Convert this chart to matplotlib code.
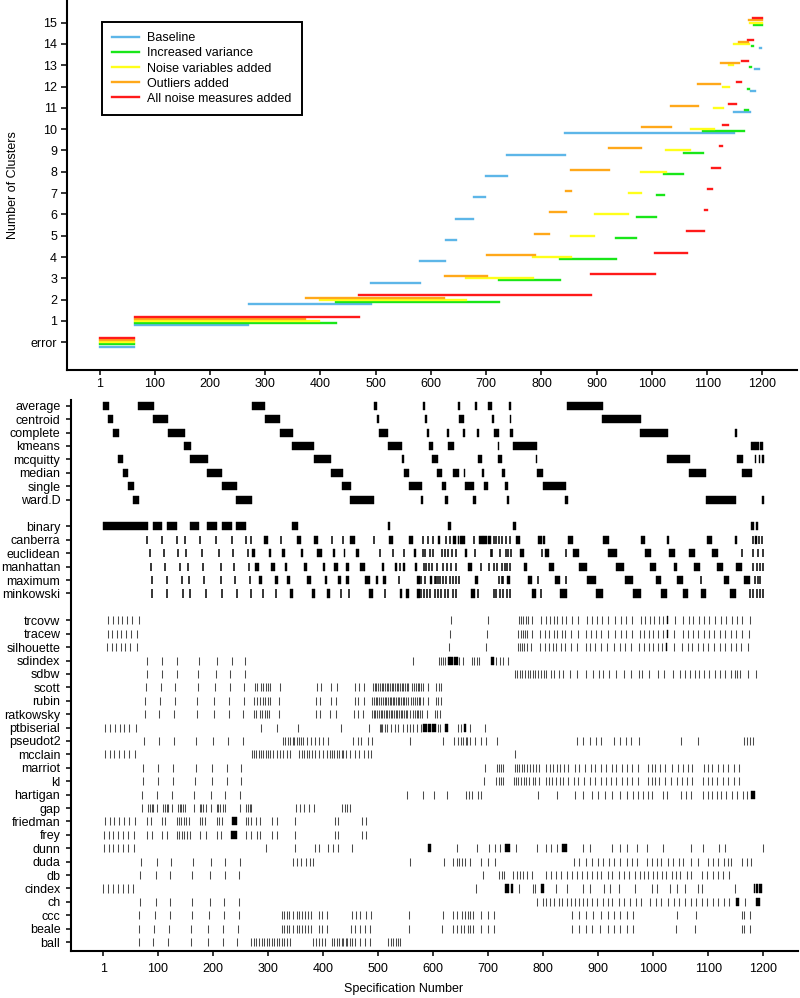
import matplotlib
matplotlib.use("Agg")
import matplotlib.pyplot as plt
from matplotlib.lines import Line2D

plt.rcParams['font.family'] = ['Liberation Sans', 'DejaVu Sans']

# ---------------- top panel data: number of specs per cluster solution ----------------
level_labels = ["error"] + [str(i) for i in range(1, 16)]
series_names = ["Baseline", "Increased variance", "Noise variables added",
                "Outliers added", "All noise measures added"]
series_colors = ["#5DB6E8", "#19E619", "#FFFF1A", "#FFA81A", "#FF1A1A"]
counts_baseline = [63, 206, 222, 89, 46, 19, 31, 22, 39, 105, 306, 30, 8, 8, 4, 2]
counts_variance = [63, 365, 295, 110, 101, 38, 36, 13, 36, 35, 75, 6, 3, 4, 3, 17]
counts_noisevars = [63, 335, 265, 121, 69, 42, 62, 23, 45, 44, 43, 16, 11, 8, 29, 24]
counts_outliers = [63, 309, 252, 77, 87, 26, 30, 9, 69, 59, 53, 49, 41, 33, 17, 26]
counts_allnoise = [63, 406, 420, 116, 58, 32, 5, 8, 15, 4, 11, 14, 10, 11, 9, 18]

x_ticks = [1, 100, 200, 300, 400, 500, 600, 700, 800, 900, 1000, 1100, 1200]

# ---------------- bottom panel data: spec numbers (single) or (first, last) runs ----------------
spec_average = [(1, 10), (65, 92), (271, 294), (493, 498), (582, 585), (646, 649), (676, 679), (700, 707), (739, 741), (844, 908)]
spec_centroid = [(10, 19), (92, 118), (295, 322), (499, 502), (586, 589), (648, 656), (707, 710), (740, 742), (908, 977)]
spec_complete = [(19, 29), (119, 149), (323, 345), (502, 518), (589, 593), (626, 628), (655, 657), (680, 683), (711, 719), (741, 744), (977, 1026), (1149, 1152)]
spec_kmeans = [(149, 159), (345, 384), (518, 544), (593, 599), (628, 637), (718, 720), (745, 788), (1179, 1184), (1186, 1191), (1194, 1199)]
spec_mcquitty = [(28, 37), (159, 190), (384, 415), (544, 546), (599, 608), (682, 689), (719, 725), (787, 789), (1026, 1066), (1152, 1162), (1185, 1187), (1193, 1194), (1199, 1200)]
spec_median = [(37, 46), (190, 217), (415, 436), (547, 556), (608, 616), (637, 647), (656, 658), (690, 693), (725, 730), (789, 800), (1065, 1096), (1161, 1179)]
spec_single = [(46, 56), (217, 243), (435, 450), (556, 579), (616, 623), (658, 674), (693, 699), (731, 736), (800, 841)]
spec_ward = [(56, 65), (243, 271), (450, 493), (579, 582), (623, 627), (674, 677), (735, 738), (841, 844), (1096, 1149), (1198, 1201)]

spec_binary = [(1, 81), (91, 107), (118, 135), (159, 175), (190, 207), (217, 234), (243, 259), (345, 354), (518, 522), (628, 632), (745, 750), (1179, 1182), (1187, 1190)]
spec_canberra = [81, 108, 135, 150, 176, 206, 234, 260, 270, (294, 300), 323, (353, 359), (384, 390), 416, 436, (450, 458), 493, (521, 526), (556, 564), 582, 591, 600, (609, 612), 623, 630, (636, 641), (645, 647), (649, 652), (654, 657), 674, (684, 690), (692, 698), (700, 704), 710, 714, 719, 725, 733, 740, (751, 757), (791, 798), (801, 803), (846, 853), (910, 919), (979, 984), (1026, 1028), (1098, 1107), (1149, 1151), 1181, (1185, 1188), 1193, 1197]
spec_euclidean = [85, 112, 137, 152, 181, 211, 237, 264, (272, 277), (303, 305), (327, 330), (361, 364), (390, 398), (419, 421), (438, 440), (460, 465), 503, 528, 547, (566, 568), 582, 586, 594, 600, 616, 622, 628, 634, 642, (659, 662), 676, 705, 708, 722, 732, 737, 741, (758, 764), 798, (803, 811), 841, (854, 865), (919, 933), (986, 995), (1029, 1039), (1066, 1075), (1108, 1117), 1162, 1182, 1191, 1200]
spec_manhattan = [87, 114, 141, 154, 182, 214, 238, 266, (278, 284), (307, 313), (331, 334), (366, 371), (400, 404), (421, 426), (442, 446), (467, 476), (507, 510), (531, 534), 540, (546, 549), (567, 570), 583, 588, 593, 598, 607, 619, 625, 633, 642, (664, 670), 688, 702, 710, 717, 725, 731, 735, 739, (765, 771), (811, 819), (865, 879), (933, 947), (995, 1004), (1039, 1042), (1075, 1085), (1117, 1127), (1150, 1161), 1181, 1188, 1194, 1200]
spec_maximum = [89, 116, 144, 156, 184, 215, 241, 267, (284, 289), (313, 317), (336, 340), (372, 378), (404, 407), (428, 432), (443, 446), (477, 485), (496, 500), (509, 514), 538, (572, 576), 579, 586, (595, 598), 603, 606, 609, 612, 618, 624, 630, 636, 641, 648, (676, 682), 719, 725, 728, (735, 740), (773, 779), 790, (822, 831), 841, (881, 895), (949, 963), (1005, 1013), (1043, 1054), 1086, (1129, 1138), (1166, 1175), 1185, 1190, 1194]
spec_minkowski = [90, 117, 146, 158, 188, 217, 243, 269, 291, 315, (340, 345), (380, 385), (407, 413), 432, 448, (485, 491), 513, (540, 543), (552, 555), (572, 576), 578, 583, 589, 595, 603, 609, 615, 621, 627, 636, 642, (670, 676), 682, 710, 715, 722, 728, 734, 739, (781, 787), 797, (832, 843), (896, 908), (963, 977), (1015, 1024), (1054, 1063), (1088, 1096), (1140, 1149), 1176, 1182, 1188, 1194, 1200]

spec_trcovw = [10, 18, 27, 35, 44, 53, 65, 632, 700, 756, 760, 764, 768, 772, 780, 796, 805, 812, 820, 826, 835, 841, 852, 864, 879, 888, 897, 907, 918, 931, 942, 951, 962, 977, 985, 994, 1001, 1010, 1018, (1026, 1027), 1039, 1055, 1065, 1073, 1083, 1093, 1102, 1112, 1123, 1132, 1143, 1152, 1162, 1175]
spec_tracew = [9, 17, 25, 34, 42, 51, 63, 630, 698, 755, 759, 763, 767, 771, 779, 795, 804, 811, 819, 825, 834, 840, 851, 863, 878, 887, 896, 906, 917, 930, 941, 950, 961, 976, 984, 993, 1000, 1009, 1017, (1025, 1026), 1038, 1054, 1064, 1072, 1082, 1092, 1101, 1111, 1122, 1131, 1142, 1151, 1161, 1174]
spec_silhouette = [7, 16, 24, 33, 41, 50, 62, 629, 697, 754, 758, 762, 766, 770, 778, 794, 803, 810, 818, 824, 833, 839, 850, 862, 877, 886, 895, 905, 916, 929, 940, 949, 960, 975, 983, 992, 999, 1008, 1016, (1024, 1025), 1037, 1053, 1063, 1071, 1081, 1091, 1100, 1110, 1121, 1130, 1141, 1150, 1160, 1173]
spec_sdindex = [80, 107, 134, 175, 207, 234, 259, 563, 610, 614, 618, 622, (627, 630), (632, 636), (639, 644), 648, 654, 670, 674, 679, 683, (705, 710), 715, 722, 727, 737]
spec_sdbw = [80, 107, 134, 173, 205, 232, 258, 749, 753, 758, 762, 767, 772, 776, 782, 786, 791, 796, 802, 806, 814, 820, 828, 837, 849, 861, 877, 891, 901, 909, 919, 933, 947, 959, 974, 980, 992, 1008, 1019, 1036, 1049, 1058, 1067, 1075, 1083, 1093, 1102, 1112, 1121, 1130, 1141, 1149, 1153, 1158, 1173, 1187]
spec_scott = [78, 105, 132, 173, 204, 231, 257, 276, 281, 287, 292, 296, 301, 304, 322, 389, 396, 415, 425, 459, 465, 475, 491, 494, 497, 500, 503, 507, 510, 513, 516, 519, 522, 525, 528, 531, 534, 537, 540, 543, 546, 549, 552, 555, 561, 565, 569, 572, 575, 578, 582, 591, 606, 610, 615]
spec_rubin = [77, 104, 131, 172, 203, 230, 256, 275, 280, 286, 291, 295, 300, 303, 321, 388, 395, 414, 424, 458, 464, 474, 490, 493, 496, 499, 502, 506, 509, 512, 515, 518, 521, 524, 527, 530, 533, 536, 539, 542, 545, 548, 551, 554, 560, 564, 568, 571, 574, 577, 581, 590, 605, 609, 614]
spec_ratkowsky = [76, 103, 130, 171, 202, 229, 255, 274, 279, 285, 290, 294, 299, 302, 320, 387, 394, 413, 423, 457, 463, 473, 489, 492, 495, 498, 501, 505, 508, 511, 514, 517, 520, 523, 526, 529, 532, 535, 538, 541, 544, 547, 550, 553, 559, 563, 567, 570, 573, 576, 580, 589, 604, 608, 613]
spec_ptbiserial = [5, 14, 22, 31, 39, 48, 60, 288, 317, 354, 432, 484, 503, 505, 508, 513, 517, 523, 531, 536, 546, 552, 558, 564, 570, 578, (582, 588), (592, 596), (598, 604), 609, 613, (622, 627), 645, 651, (656, 659), 667, 695]
spec_pseudot2 = [75, 102, 129, 170, 201, 228, 254, 328, 332, 336, 340, 345, 348, 352, 357, 360, 364, 371, 378, 386, 393, 401, 410, 455, 463, 470, 482, 490, 559, 619, 639, 645, 651, 654, 659, 662, 667, 676, 688, 697, 716, 861, 873, 885, 896, 906, 928, 939, 950, 960, 974, 1050, 1081, 1164, 1170, 1176, 1181]
spec_mcclain = [4, 13, 21, 30, 38, 47, 59, 271, 275, 279, 283, 287, 291, 296, 300, 304, 310, 316, 322, 327, 334, 340, 357, 362, 366, 371, 375, 380, 386, 392, 401, 407, 413, 416, 420, 425, 430, 434, 437, 441, 449, 458, 466, 475, 482, 488, 748]
spec_marriot = [74, 101, 128, 169, 199, 226, 252, 694, 716, 720, 724, 728, 748, 752, 756, 761, 766, 770, 776, 782, 787, 793, 806, 812, 818, 825, 831, 838, 846, 857, 865, 876, 887, 895, 906, 915, 925, 933, 944, 953, 962, 973, 991, 998, 1004, 1012, 1022, 1034, 1045, 1054, 1063, 1071, 1092, 1100, 1107, 1117, 1127, 1136, 1147, 1156]
spec_kl = [73, 100, 127, 167, 199, 226, 251, 693, 715, 719, 723, 727, 747, 751, 755, 760, 765, 769, 775, 781, 786, 792, 805, 811, 817, 824, 830, 837, 845, 856, 864, 875, 886, 894, 905, 914, 924, 932, 943, 952, 961, 972, 990, 997, 1003, 1011, 1021, 1033, 1044, 1053, 1062, 1070, 1091, 1099, 1106, 1116, 1126, 1135, 1146, 1155]
spec_hartigan = [71, 98, 125, 166, 196, 223, 250, 552, 582, 602, 626, 660, 665, 670, 682, 688, 791, 825, 858, 873, 888, 900, 912, 926, 939, 953, 963, 973, 982, 991, 998, 1017, 1025, 1050, 1060, 1068, 1091, 1100, 1107, 1115, 1124, 1133, 1143, 1152, 1163, 1170, (1179, 1185)]
spec_gap = [71, 83, 86, 89, 92, 98, 110, 113, 116, 119, 125, 137, 140, 143, 146, 149, 166, 176, 179, 182, 188, 196, 207, 210, 213, 219, 223, 249, 261, 264, 267, 270, 351, 359, 366, 375, 383, 435, 440, 444, 449]
spec_friedman = [4, 13, 21, 30, 38, 47, 59, 81, 87, 108, 114, 135, 139, 143, 147, 152, 157, 176, 181, 185, 207, 211, 216, (235, 243), 260, 264, 270, 279, 285, 308, 316, 349, 422, 428, 471, 479]
spec_frey = [3, 11, 19, 28, 36, 45, 57, 81, 89, 108, 116, 135, 139, 144, 148, 153, 158, 177, 188, 207, 215, (234, 243), 260, 269, 280, 286, 308, 316, 349, 422, 428, 471, 479]
spec_dunn = [3, 11, 19, 28, 36, 45, 57, 296, 349, 386, 393, 410, 418, 428, 453, (592, 596), 643, 680, 702, 713, 722, (732, 740), 751, 788, 805, 815, 825, (834, 843), 872, 886, 926, 940, 952, 970, 988, 1018, 1068, 1090, 1120, 1130, 1200]
spec_duda = [69, 98, 124, 164, 196, 223, 249, 346, 353, 361, 369, 376, 382, 558, 620, 637, 643, 648, 653, 658, 668, 687, 700, 713, 856, 866, 877, 888, 900, 908, 920, 929, 940, 952, 961, 970, 988, 997, 1007, 1015, 1027, 1036, 1047, 1055, 1068, 1082, 1100, 1109, 1118, 1129, 1136, 1142, 1162, 1170, 1178]
spec_db = [68, 96, 123, 163, 195, 222, 248, 691, 720, 725, 729, 746, 752, 758, 764, 771, 779, 805, 814, 823, 832, 843, 852, 861, 870, 879, 888, 897, 906, 917, 926, 938, 947, 956, 967, 976, 983, 991, 1000, 1007, 1016, 1024, 1035, 1041, 1049, 1061, 1068, 1088, 1098, 1108, 1117, 1127, 1138]
spec_cindex = [1, 10, 19, 28, 37, 46, 55, 678, (732, 738), (742, 745), 757, 781, 786, (797, 801), 823, 843, 872, 885, 910, 921, 938, 966, 998, 1007, 1030, 1044, 1058, 1082, 1088, 1149, (1184, 1185), (1188, 1190), (1192, 1197)]
spec_ch = [68, 96, 122, 163, 194, 221, 248, 789, 799, 805, 812, 820, 828, 835, 843, 850, 858, 866, 873, 880, 889, 897, 908, 917, 926, 937, 947, 957, 968, 977, 994, 1005, 1015, 1027, 1038, 1047, 1058, 1068, 1078, 1088, 1098, 1108, 1118, 1129, 1138, (1150, 1155), 1167, (1188, 1194)]
spec_ccc = [66, 95, 122, 163, 193, 220, 248, 325, 329, 334, 339, 346, 352, 357, 362, 367, 372, 378, 392, 398, 407, 452, 460, 468, 478, 487, 557, 618, 637, 644, 652, 658, 664, 667, 672, 687, 700, 711, 853, 865, 877, 890, 905, 917, 928, 940, 952, 964, 1044, 1078, 1161, 1165, 1176]
spec_beale = [65, 93, 121, 161, 192, 219, 245, 325, 329, 334, 339, 346, 352, 357, 362, 367, 372, 378, 392, 398, 407, 451, 459, 467, 477, 486, 557, 617, 637, 644, 651, 657, 663, 667, 673, 687, 700, 711, 852, 865, 877, 889, 903, 917, 928, 940, 952, 964, 1042, 1076, 1161, 1165, 1176]
spec_ball = [65, 92, 119, 160, 191, 218, 244, 270, 275, 279, 284, 289, 293, 298, 302, 307, 311, 316, 320, 325, 329, 334, 340, 382, 387, 392, 398, 404, 416, 420, 425, 430, 434, 437, 441, 444, 449, 453, 458, 467, 476, 485, 519, 524, 528, 532, 537, 540]

method_labels = ["average", "centroid", "complete", "kmeans", "mcquitty", "median", "single", "ward.D"]
method_specs = [spec_average, spec_centroid, spec_complete, spec_kmeans, spec_mcquitty,
                spec_median, spec_single, spec_ward]
distance_labels = ["binary", "canberra", "euclidean", "manhattan", "maximum", "minkowski"]
distance_specs = [spec_binary, spec_canberra, spec_euclidean, spec_manhattan, spec_maximum, spec_minkowski]
index_labels = ["trcovw", "tracew", "silhouette", "sdindex", "sdbw", "scott", "rubin", "ratkowsky",
                "ptbiserial", "pseudot2", "mcclain", "marriot", "kl", "hartigan", "gap", "friedman",
                "frey", "dunn", "duda", "db", "cindex", "ch", "ccc", "beale", "ball"]
index_specs = [spec_trcovw, spec_tracew, spec_silhouette, spec_sdindex, spec_sdbw, spec_scott,
               spec_rubin, spec_ratkowsky, spec_ptbiserial, spec_pseudot2, spec_mcclain, spec_marriot,
               spec_kl, spec_hartigan, spec_gap, spec_friedman, spec_frey, spec_dunn, spec_duda,
               spec_db, spec_cindex, spec_ch, spec_ccc, spec_beale, spec_ball]

# ---------------- figure ----------------
W, H = 800, 998
fig = plt.figure(figsize=(W / 100, H / 100), dpi=100)
FS = 9.0

ax1 = fig.add_axes([66.7 / W, 1 - 370 / H, (797 - 66.7) / W, 370 / H])
ax2 = fig.add_axes([70.7 / W, 1 - 950.7 / H, (798 - 70.7) / W, (950.7 - 400) / H])

# top panel
all_counts = [counts_baseline, counts_variance, counts_noisevars, counts_outliers, counts_allnoise]
offsets = [-0.2, -0.1, 0.0, 0.1, 0.2]
for counts, col, off in zip(all_counts, series_colors, offsets):
    cum = 0
    for lvl, n in enumerate(counts):
        if n > 0:
            ax1.hlines(lvl + off, cum + 1, cum + n, colors=col, linewidth=1.7,
                       capstyle='projecting')
        cum += n

ax1.set_xlim(-59.3, 1262.5)
ax1.set_ylim(-1.3, 16.06)
ax1.set_yticks(range(16))
ax1.set_yticklabels(level_labels)
ax1.set_xticks(x_ticks)
ax1.set_xticklabels([str(t) for t in x_ticks])
for s in ["top", "right"]:
    ax1.spines[s].set_visible(False)
for s in ["left", "bottom"]:
    ax1.spines[s].set_linewidth(1.5)
ax1.tick_params(axis='y', direction='out', length=4, width=1.1, pad=3.0, labelsize=FS)
ax1.tick_params(axis='x', direction='out', length=3.5, width=1.1, pad=2.5, labelsize=FS)

handles = [Line2D([0], [0], color=c, linewidth=1.7) for c in series_colors]
leg = ax1.legend(handles, series_names, loc='upper left',
                 bbox_to_anchor=(101.7 / W, 1 - 21.7 / H), bbox_transform=fig.transFigure,
                 fontsize=FS, frameon=True, fancybox=False, framealpha=1,
                 borderpad=0.85, labelspacing=0.25, handlelength=2.1, handletextpad=0.7,
                 borderaxespad=0)
leg.get_frame().set_edgecolor('black')
leg.get_frame().set_linewidth(1.4)

fig.text(13 / W, 1 - 185 / H, "Number of Clusters", rotation=90, ha='center', va='center',
         fontsize=FS)

# bottom panel
rows = []
for i, (lab, sp) in enumerate(zip(method_labels, method_specs)):
    rows.append((i, lab, sp, 'black', 1.1))
for i, (lab, sp) in enumerate(zip(distance_labels, distance_specs)):
    rows.append((9 + i, lab, sp, 'black', 1.1))
for i, (lab, sp) in enumerate(zip(index_labels, index_specs)):
    rows.append((16 + i, lab, sp, '#4a4a4a', 0.75))

for ypos, lab, sp, col, lw in rows:
    segs = []
    singles = []
    for item in sp:
        if isinstance(item, tuple):
            a, b = item
            segs.append((a - 0.5, b - a + 1))
        else:
            singles.append(item)
    if segs:
        ax2.broken_barh(segs, (ypos - 0.3, 0.6), facecolors='black', edgecolors='black',
                        linewidth=0.3)
    if singles:
        ax2.vlines(singles, ypos - 0.3, ypos + 0.3, colors=col, linewidth=lw)

ax2.set_xlim(-58.2, 1263)
ax2.set_ylim(40.64, -0.43)
ax2.set_yticks([r[0] for r in rows])
ax2.set_yticklabels([r[1] for r in rows])
ax2.set_xticks(x_ticks)
ax2.set_xticklabels([str(t) for t in x_ticks])
for s in ["top", "right"]:
    ax2.spines[s].set_visible(False)
for s in ["left", "bottom"]:
    ax2.spines[s].set_linewidth(1.5)
ax2.tick_params(axis='y', direction='out', length=3.5, width=1.1, pad=4.0, labelsize=FS)
ax2.tick_params(axis='x', direction='out', length=3.5, width=1.1, pad=5.5, labelsize=FS)

fig.text(404 / W, 1 - 989 / H, "Specification Number", ha='center', va='center', fontsize=FS)

fig.savefig("out.png", dpi=100)
